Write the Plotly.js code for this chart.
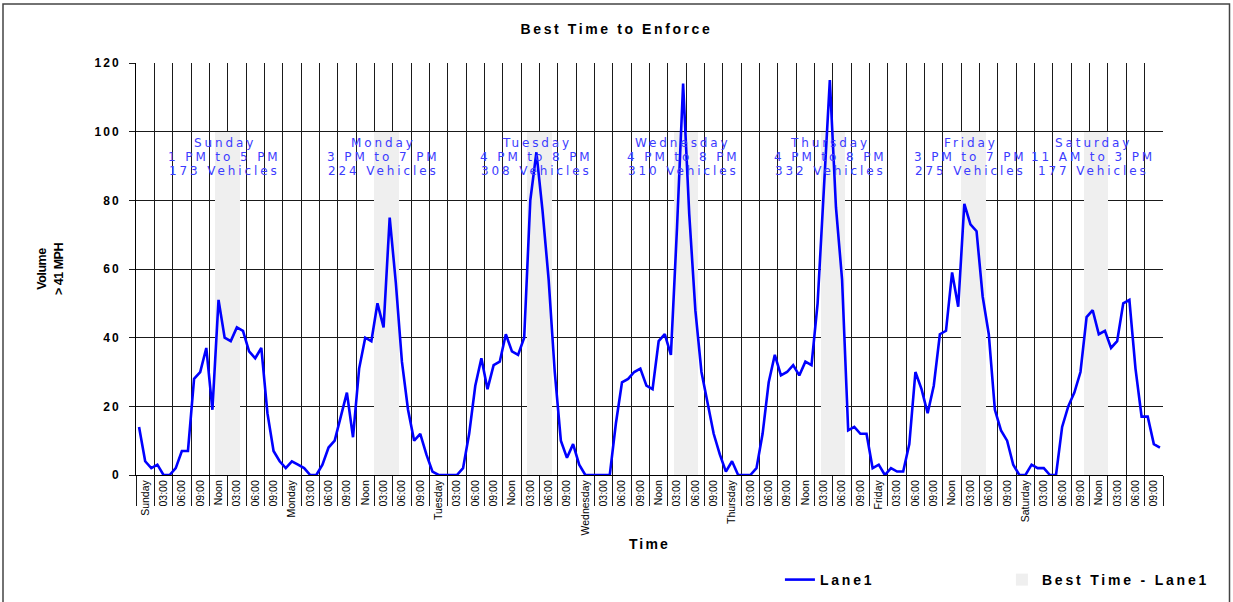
<!DOCTYPE html>
<html>
<head>
<meta charset="utf-8">
<script src="https://cdn.plot.ly/plotly-3.0.1.min.js"></script>
<style>
  html, body { margin: 0; padding: 0; background: #fff; }
  #chart { width: 1233px; height: 602px; }
  .gtitle { letter-spacing: 2.6px; }
  .xtitle { letter-spacing: 2.2px; }
  .ytitle { letter-spacing: -0.5px; }
  .legendtext { letter-spacing: 2.8px; }
  .annotation-text { letter-spacing: 2.9px; }
  .ytick text, .y2tick text { letter-spacing: 2px; }
</style>
</head>
<body>
<div id="chart"></div>
<script>
// ---- data (hourly volume > 41 MPH, Lane1) ----
const dayNames = ["Sunday", "Monday", "Tuesday", "Wednesday", "Thursday", "Friday", "Saturday"];
const slotLabels = ["", "03:00", "06:00", "09:00", "Noon", "03:00", "06:00", "09:00"];

const sunday    = [14, 4, 2, 3, 0, 0, 2, 7, 7, 28, 30, 37, 19, 51, 40, 39, 43, 42, 36, 34, 37, 18, 7, 4];
const monday    = [2, 4, 3, 2, 0, 0, 3, 8, 10, 17, 24, 11, 31, 40, 39, 50, 43, 75, 56, 33, 19, 10, 12, 6];
const tuesday   = [1, 0, 0, 0, 0, 2, 12, 26, 34, 25, 32, 33, 41, 36, 35, 40, 80, 94, 77, 57, 30, 10, 5, 9];
const wednesday = [3, 0, 0, 0, 0, 0, 15, 27, 28, 30, 31, 26, 25, 39, 41, 35, 72, 114, 76, 48, 30, 21, 12, 6];
const thursday  = [1, 4, 0, 0, 0, 2, 12, 27, 35, 29, 30, 32, 29, 33, 32, 50, 82, 115, 78, 57, 13, 14, 12, 12];
const friday    = [2, 3, 0, 2, 1, 1, 9, 30, 25, 18, 26, 41, 42, 59, 49, 79, 73, 71, 52, 41, 19, 13, 10, 3];
const saturday  = [0, 0, 3, 2, 2, 0, 0, 14, 20, 24, 30, 46, 48, 41, 42, 37, 39, 50, 51, 31, 17, 17, 9, 8];

// best 4-hour window per day (start hour of day)
const bestStartHour = [13, 15, 16, 16, 16, 15, 11];
const bestWindowText = ["1 PM to 5 PM", "3 PM to 7 PM", "4 PM to 8 PM", "4 PM to 8 PM", "4 PM to 8 PM", "3 PM to 7 PM", "11 AM to 3 PM"];
const bestVehicles = [173, 224, 308, 310, 332, 275, 177];
const bestBandHeight = 100;
const windowHours = 4;

// ---- build traces ----
const days = [sunday, monday, tuesday, wednesday, thursday, friday, saturday];
const lineX = [], lineY = [];
days.forEach((vals, d) => vals.forEach((v, h) => { lineX.push(d * 24 + h + 0.5); lineY.push(v); }));

const bandX = bestStartHour.map((s, d) => d * 24 + s + windowHours / 2);
const bandY = bestStartHour.map(() => bestBandHeight);

const tickVals = [], tickText = [];
dayNames.forEach((name, d) => slotLabels.forEach((lab, i) => {
  tickVals.push(d * 24 + i * 3 + 1.5);
  tickText.push(i === 0 ? name : lab);
}));

const bandTrace = {
  type: "bar", name: "Best Time - Lane1",
  x: bandX, y: bandY, width: bandX.map(() => windowHours),
  marker: { color: "#efefef", line: { width: 0 } },
  hoverinfo: "skip", legendrank: 2
};
const lineTrace = {
  type: "scatter", mode: "lines", name: "Lane1",
  x: lineX, y: lineY,
  line: { color: "#0000ff", width: 2.6 },
  legendrank: 1
};

// ---- annotations ----
const annColor = "#3c3cff";
const annFont = { family: "DejaVu Sans, Liberation Sans, Arial, sans-serif", size: 12, color: annColor };
const annRows = [dayNames, bestWindowText, bestVehicles.map(v => v + " Vehicles")];
const annY = [96.6, 92.5, 88.4];
const annotations = [];
bandX.forEach((cx, d) => {
  annRows.forEach((row, r) => {
    annotations.push({
      x: cx - 0.45, y: annY[r], xref: "x", yref: "y",
      text: String(row[d]), showarrow: false,
      xanchor: "center", yanchor: "middle", font: annFont
    });
  });
});

const gridCol = "#1a1a1a";
const tickFontB = { family: "Liberation Sans, Arial, sans-serif", size: 12, color: "#000", weight: "bold" };

const layout = {
  width: 1233, height: 602,
  paper_bgcolor: "#fff", plot_bgcolor: "#fff",
  margin: { l: 136, r: 70, t: 63, b: 127, autoexpand: false },
  title: {
    text: "<b>Best Time to Enforce</b>",
    font: { family: "Liberation Sans, Arial, sans-serif", size: 14, color: "#000" },
    x: 0.5, xref: "container", xanchor: "center", y: 1 - 29 / 602, yanchor: "middle"
  },
  showlegend: true,
  legend: {
    orientation: "h", x: 0.627, xanchor: "left", y: -0.216, yanchor: "top",
    font: { family: "Liberation Sans, Arial, sans-serif", size: 14, color: "#000", weight: "bold" },
    entrywidth: 177, traceorder: "normal", bgcolor: "rgba(0,0,0,0)"
  },
  xaxis: {
    range: [0, 168], fixedrange: true, automargin: false,
    tickmode: "array", tickvals: tickVals, ticktext: tickText,
    tickangle: -90, ticks: "", showgrid: false, zeroline: false,
    tickfont: { family: "Liberation Sans, Arial, sans-serif", size: 10.5, color: "#000" },
    showline: true, linecolor: "#000", linewidth: 1,
    minor: { tick0: 0, dtick: 3, ticks: "outside", ticklen: 30, tickcolor: gridCol, tickwidth: 1,
             showgrid: true, gridcolor: gridCol, gridwidth: 1 },
    title: { text: "<b>Time</b>", font: { family: "Liberation Sans, Arial, sans-serif", size: 14, color: "#000" }, standoff: 4 }
  },
  yaxis: {
    range: [0, 120], dtick: 20, fixedrange: true, automargin: false,
    showgrid: true, gridcolor: gridCol, gridwidth: 1, zeroline: false,
    showline: true, linecolor: "#000", linewidth: 1,
    ticks: "outside", ticklen: 6, tickcolor: gridCol, ticklabelstandoff: 6,
    tickfont: tickFontB,
    title: { text: "<b>Volume<br>> 41 MPH</b>", font: { family: "Liberation Sans, Arial, sans-serif", size: 12.5, color: "#000" }, standoff: 28 }
  },
  yaxis2: {
    overlaying: "y", side: "right", range: [0, 120], dtick: 20, fixedrange: true, automargin: false,
    showgrid: false, zeroline: false, showline: true, linecolor: "#000", linewidth: 1,
    ticks: "outside", ticklen: 6, tickcolor: gridCol, ticklabelstandoff: 4,
    tickfont: tickFontB
  },
  bargap: 0,
  annotations: annotations,
  shapes: [{
    type: "rect", xref: "paper", yref: "paper",
    x0: (3 - 136) / 1027, x1: (1229.5 - 136) / 1027,
    y0: (475 - 640) / 412, y1: (475 - 4) / 412,
    line: { color: "#444", width: 1.5 }, fillcolor: "rgba(0,0,0,0)", layer: "above"
  }]
};

Plotly.newPlot("chart", [bandTrace, lineTrace], layout, { displayModeBar: false, staticPlot: true });
</script>
</body>
</html>
